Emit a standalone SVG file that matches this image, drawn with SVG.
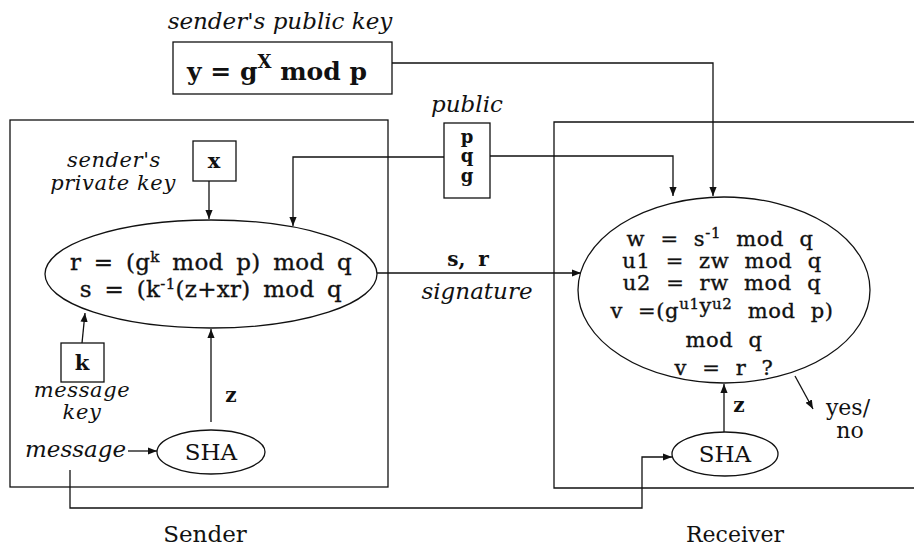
<svg xmlns="http://www.w3.org/2000/svg" width="914" height="548" viewBox="0 0 914 548">
<style>
.ln{fill:none;stroke:#111;stroke-width:1.3}
.sh{fill:#fff;stroke:#111;stroke-width:1.3}
.t{font-family:"DejaVu Serif","Liberation Serif",serif;fill:#111}
.it{font-style:italic}
.b{font-weight:bold}
.f{font-size:23px;word-spacing:5px;letter-spacing:0.3px;stroke:#111;stroke-width:0.35}
.fr{font-size:21px;word-spacing:8px;letter-spacing:0.6px;stroke:#111;stroke-width:0.35}
.lab{font-size:23px}
.st{font-size:21px;letter-spacing:0.6px}
.sup{font-size:15px}
</style>
<defs>
<marker id="ar" viewBox="0 0 10 10" refX="10" refY="5" markerWidth="9" markerHeight="9" markerUnits="userSpaceOnUse" orient="auto">
<path d="M0,1 L10,5 L0,9 z" fill="#111"/>
</marker>
</defs>
<g id="sender-frame"><rect class="ln" x="10" y="120" width="378" height="367"/></g>
<g id="receiver-frame"><path class="ln" d="M914,122 H554 V488 H914"/></g>
<g id="public-key">
<text class="t it lab" x="280" y="29" text-anchor="middle" font-size="25">sender's public key</text>
<rect class="sh" x="173" y="42" width="219" height="52"/>
<text class="t b" x="277" y="80" text-anchor="middle" font-size="25">y = g<tspan font-size="18" dy="-12">X</tspan><tspan dy="12"> mod p</tspan></text>
</g>
<g id="public-params">
<text class="t it lab" x="467" y="112" text-anchor="middle">public</text>
<rect class="sh" x="444" y="123" width="46" height="75"/>
<text class="t b" x="467" y="143" text-anchor="middle" font-size="18">p</text>
<text class="t b" x="467" y="162" text-anchor="middle" font-size="18">q</text>
<text class="t b" x="467" y="182" text-anchor="middle" font-size="18">g</text>
</g>
<g id="private-key">
<text class="t it st" x="114" y="167" text-anchor="middle">sender's</text>
<text class="t it st" x="113" y="190" text-anchor="middle">private key</text>
<rect class="sh" x="193" y="141" width="43" height="40"/>
<text class="t b" x="214" y="168" text-anchor="middle" font-size="21">x</text>
</g>
<g id="message-key">
<rect class="sh" x="61" y="343" width="43" height="39"/>
<text class="t b" x="82" y="370" text-anchor="middle" font-size="21">k</text>
<text class="t it st" x="82" y="397" text-anchor="middle">message</text>
<text class="t it st" x="82" y="419" text-anchor="middle">key</text>
</g>
<g id="sign">
<ellipse class="sh" cx="211" cy="274" rx="166" ry="54"/>
<text class="t f" x="211" y="270" text-anchor="middle">r = (g<tspan class="sup" dy="-8">k</tspan><tspan dy="8"> mod p) mod q</tspan></text>
<text class="t f" x="211" y="297" text-anchor="middle">s = (k<tspan class="sup" dy="-8">-1</tspan><tspan dy="8">(z+xr) mod q</tspan></text>
</g>
<g id="message"><text class="t it lab" x="25" y="457">message</text></g>
<g id="sender-sha">
<ellipse class="sh" cx="211" cy="452" rx="54" ry="22"/>
<text class="t" x="211" y="460" text-anchor="middle" font-size="23">SHA</text>
</g>
<g id="verify">
<ellipse class="sh" cx="724" cy="290" rx="146" ry="93"/>
<text class="t fr" x="720" y="246" text-anchor="middle">w = s<tspan class="sup" dy="-8">-1</tspan><tspan dy="8"> mod q</tspan></text>
<text class="t fr" x="722" y="268" text-anchor="middle">u1 = zw mod q</text>
<text class="t fr" x="722" y="290" text-anchor="middle">u2 = rw mod q</text>
<text class="t fr" x="722" y="318" text-anchor="middle" word-spacing="3">v =(g<tspan class="sup" dy="-9">u1</tspan><tspan dy="4">y</tspan><tspan class="sup" dy="-4">u2</tspan><tspan dy="9" word-spacing="8"> mod p)</tspan></text>
<text class="t fr" x="724" y="347" text-anchor="middle">mod q</text>
<text class="t fr" x="724" y="375" text-anchor="middle">v = r ?</text>
</g>
<g id="receiver-sha">
<ellipse class="sh" cx="725" cy="454" rx="53" ry="22"/>
<text class="t" x="725" y="462" text-anchor="middle" font-size="23">SHA</text>
</g>
<g id="result">
<text class="t" x="848" y="415" text-anchor="middle" font-size="22">yes/</text>
<text class="t" x="850" y="438" text-anchor="middle" font-size="22">no</text>
</g>
<g id="labels">
<text class="t b" x="468" y="266" text-anchor="middle" font-size="20" word-spacing="6">s, r</text>
<text class="t it lab" x="477" y="299" text-anchor="middle">signature</text>
<text class="t b" x="231" y="402" text-anchor="middle" font-size="20">z</text>
<text class="t b" x="739" y="412" text-anchor="middle" font-size="20">z</text>
<text class="t" x="205" y="542" text-anchor="middle" font-size="23">Sender</text>
<text class="t" x="735" y="542" text-anchor="middle" font-size="22">Receiver</text>
</g>
<g id="connectors">
<path class="ln" d="M392,63 H713 V196" marker-end="url(#ar)"/>
<path class="ln" d="M490,156 H673 V196" marker-end="url(#ar)"/>
<path class="ln" d="M444,157 H293 V226" marker-end="url(#ar)"/>
<path class="ln" d="M209,181 V219" marker-end="url(#ar)"/>
<path class="ln" d="M82,343 L85,313" marker-end="url(#ar)"/>
<path class="ln" d="M377,273 H581" marker-end="url(#ar)"/>
<path class="ln" d="M211,422 V329" marker-end="url(#ar)"/>
<path class="ln" d="M128,451 H157" marker-end="url(#ar)"/>
<path class="ln" d="M70,470 V508 H642 V457 H672" marker-end="url(#ar)"/>
<path class="ln" d="M724,432 V384" marker-end="url(#ar)"/>
<path class="ln" d="M795,376 L813,409" marker-end="url(#ar)"/>
</g>
</svg>
